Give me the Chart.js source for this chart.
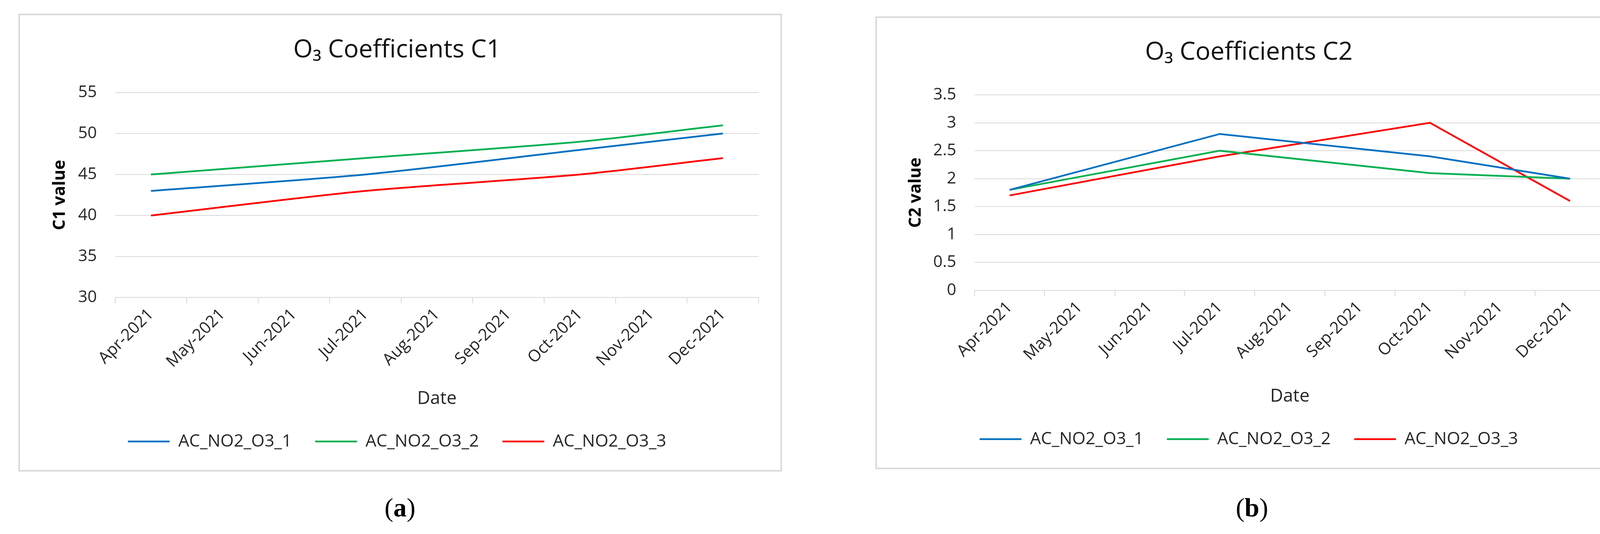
<!DOCTYPE html>
<html>
<head>
<meta charset="utf-8">
<script src="https://cdn.jsdelivr.net/npm/chart.js@4.4.1/dist/chart.umd.min.js"></script>
<style>
  body { margin: 0; background: #fff; width: 4200px; height: 1368px; position: relative; overflow: hidden; }
  .panel { position: absolute; border: 4px solid #d9d9d9; background: #fff; }
  .panel canvas { display: block; }
  .caption { position: absolute; font-family: 'Liberation Serif', 'DejaVu Serif', serif; font-size: 68px; color: #000; transform: translate(-50%, -50%); }
</style>
</head>
<body>
<div class="panel" style="left:47px; top:35px;"><canvas id="chartC1" width="1947" height="1165"></canvas></div>
<div class="panel" style="left:2241px; top:42px;"><canvas id="chartC2" width="1920" height="1152"></canvas></div>
<div class="caption" style="left:1024px; top:1300px;">(<b>a</b>)</div>
<div class="caption" style="left:3205px; top:1300px;">(<b>b</b>)</div>
<script>
const months = ['Apr-2021', 'May-2021', 'Jun-2021', 'Jul-2021', 'Aug-2021', 'Sep-2021', 'Oct-2021', 'Nov-2021', 'Dec-2021'];
const seriesNames = ['AC_NO2_O3_1', 'AC_NO2_O3_2', 'AC_NO2_O3_3'];
const seriesColors = ['#0070C0', '#00B050', '#FF0000'];

// values only where the lines bend, the other months are empty
const c1Series1 = [43, null, null, 45, null, null, 48, null, 50];
const c1Series2 = [45, null, null, 47, null, null, 49, null, 51];
const c1Series3 = [40, null, null, 43, null, null, 45, null, 47];

const c2Series1 = [1.8, null, null, 2.8, null, null, 2.4, null, 2.0];
const c2Series2 = [1.8, null, null, 2.5, null, null, 2.1, null, 2.0];
const c2Series3 = [1.7, null, null, 2.4, null, null, 3.0, null, 1.6];

const c1Axis = { min: 30, max: 55, step: 5 };
const c2Axis = { min: 0, max: 3.5, step: 0.5 };

const family = "'Open Sans', 'DejaVu Sans', sans-serif";
const textColor = '#262626';
const gridColor = '#d9d9d9';

function buildChart(id, geo, title, yLabel, sets, axis, tension) {
    const canvas = document.getElementById(id);
    const titleLH = 64 * 1.2;
    const padLeft = 40;
    const legendPad = 60;
    const legendFont = 44;
    const padBottom = canvas.height - 32 - geo.legendY;
    const legendTop = geo.legendY - legendFont / 2 - legendPad;

    return new Chart(canvas, {
        type: 'line',
        data: {
            labels: months,
            datasets: sets.map((vals, i) => ({
                label: seriesNames[i],
                data: vals,
                borderColor: seriesColors[i],
                backgroundColor: seriesColors[i],
                borderWidth: 4.5,
                pointRadius: 0,
                tension: tension,
                spanGaps: true
            }))
        },
        options: {
            responsive: false,
            animation: false,
            layout: {
                padding: { left: padLeft, right: canvas.width - geo.plotRight, top: 0, bottom: padBottom }
            },
            plugins: {
                title: {
                    display: true,
                    text: title,
                    color: '#111',
                    font: { family: family, size: 64, weight: 'normal' },
                    padding: { top: geo.titleY - titleLH / 2, bottom: geo.plotTop - geo.titleY - titleLH / 2 }
                },
                legend: {
                    position: 'bottom',
                    labels: {
                        usePointStyle: true,
                        pointStyle: 'line',
                        pointStyleWidth: 107,
                        color: textColor,
                        font: { family: family, size: legendFont },
                        padding: legendPad
                    }
                },
                tooltip: { enabled: false }
            },
            scales: {
                x: {
                    offset: true,
                    grid: { offset: true, drawOnChartArea: false, drawTicks: true, tickLength: 15, color: gridColor, lineWidth: 2 },
                    border: { color: gridColor, width: 2 },
                    ticks: { color: textColor, font: { family: family, size: 42 }, minRotation: 45, maxRotation: 45, autoSkip: false, padding: 4 },
                    title: { display: true, text: 'Date', color: textColor, font: { family: family, size: 46 }, padding: 0 },
                    afterFit: s => { s.height = legendTop - geo.plotBottom; }
                },
                y: {
                    min: axis.min,
                    max: axis.max,
                    ticks: {
                        stepSize: axis.step,
                        color: textColor,
                        font: { family: family, size: 42 },
                        padding: 47,
                        callback: v => String(v)
                    },
                    grid: { color: gridColor, lineWidth: 2, drawTicks: false },
                    border: { display: false },
                    title: {
                        display: true,
                        text: yLabel,
                        color: '#000',
                        font: { family: family, size: 43, weight: 'bold' },
                        padding: { top: geo.yTitleX - padLeft - 43 * 1.2 / 2, bottom: 0 }
                    },
                    afterFit: s => { s.width = geo.plotLeft - padLeft; }
                }
            }
        }
    });
}

buildChart('chartC1',
    { plotLeft: 244, plotRight: 1891, plotTop: 198, plotBottom: 723, titleY: 90, yTitleX: 103, legendY: 1092 },
    'O\u2083 Coefficients C1', 'C1 value', [c1Series1, c1Series2, c1Series3], c1Axis, 0.25);

buildChart('chartC2',
    { plotLeft: 250, plotRight: 1864, plotTop: 197, plotBottom: 698, titleY: 89, yTitleX: 100, legendY: 1079 },
    'O\u2083 Coefficients C2', 'C2 value', [c2Series1, c2Series2, c2Series3], c2Axis, 0);
</script>
</body>
</html>
